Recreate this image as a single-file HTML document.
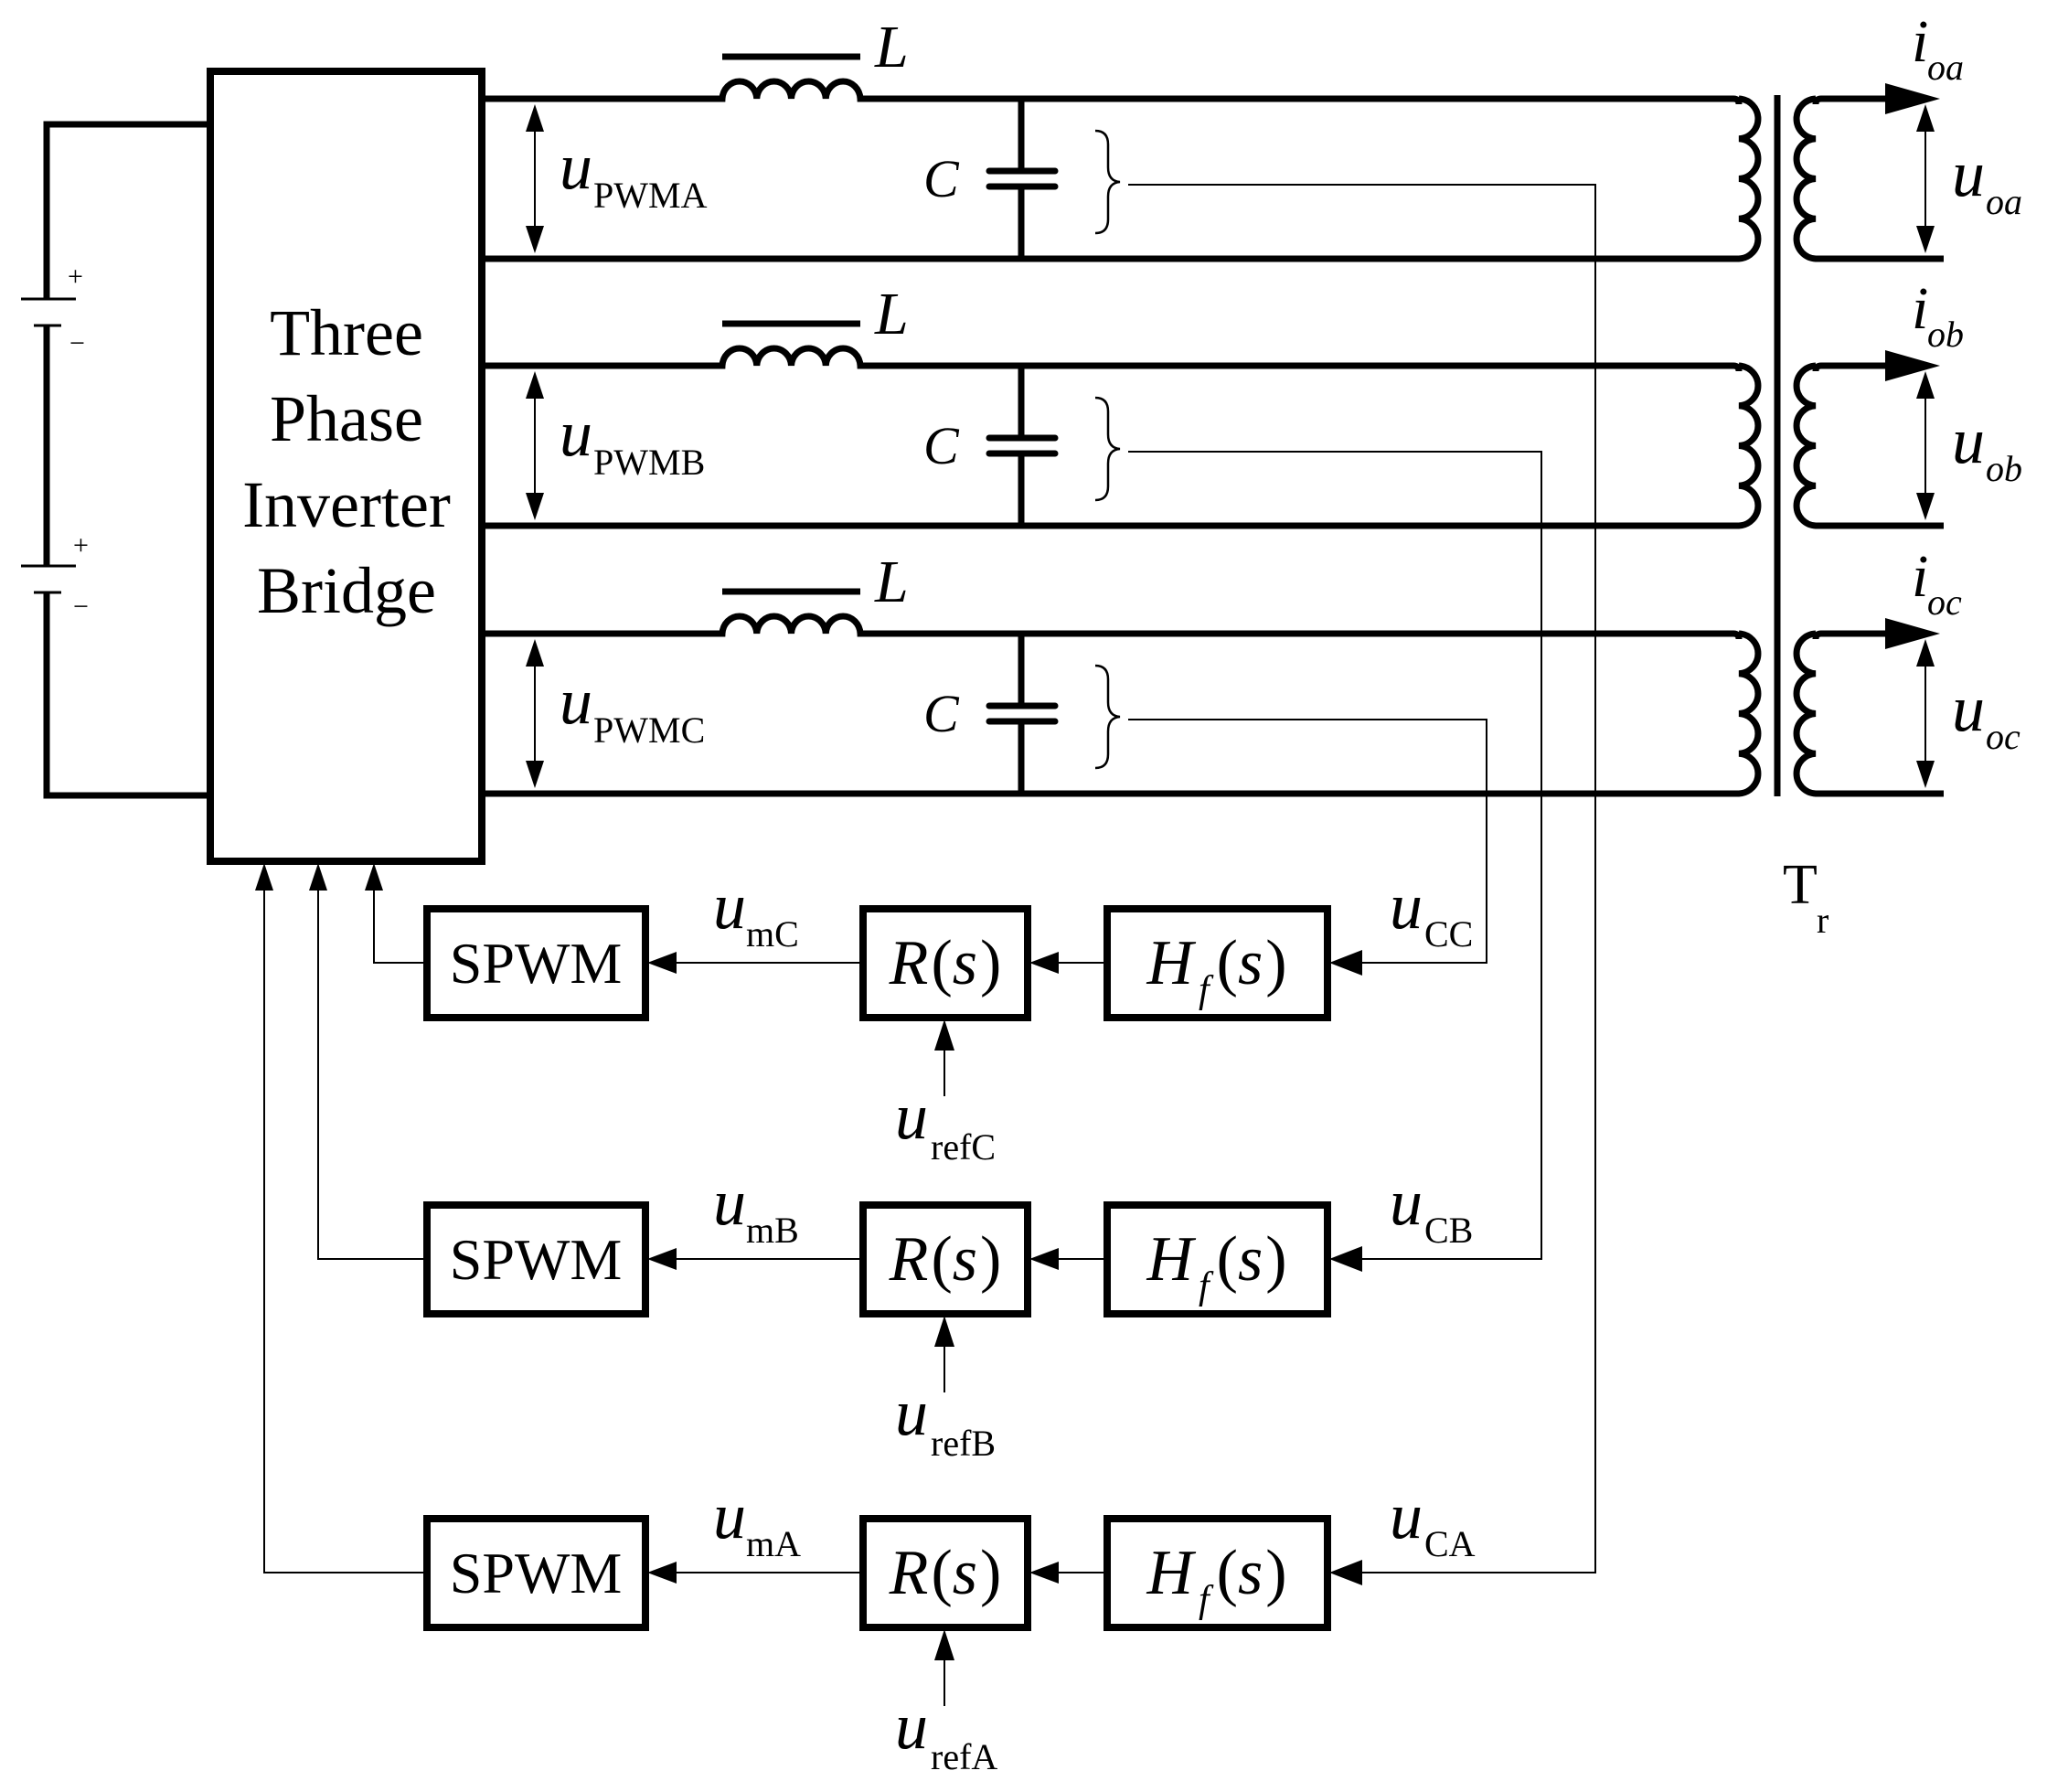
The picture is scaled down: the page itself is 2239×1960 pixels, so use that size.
<!DOCTYPE html>
<html><head><meta charset="utf-8"><style>
html,body{margin:0;padding:0;background:#fff;}
svg{display:block;}
text{font-family:"Liberation Serif",serif;fill:#000;}
.i{font-style:italic;}
</style></head><body>
<svg width="2239" height="1960" viewBox="0 0 2239 1960" xmlns="http://www.w3.org/2000/svg">
<defs>
<g id="phase">
  <path d="M527 108 H790 a18.9 20 0 0 1 37.75 0 a18.9 20 0 0 1 37.75 0 a18.9 20 0 0 1 37.75 0 a18.9 20 0 0 1 37.75 0 H1896 q6 0 6 6" fill="none" stroke="#000" stroke-width="7"/>
  <path d="M1902 108 a22 21.9 0 0 1 0 43.75 a22 21.9 0 0 1 0 43.75 a22 21.9 0 0 1 0 43.75 a22 21.9 0 0 1 0 43.75 H527" fill="none" stroke="#000" stroke-width="7"/>
  <line x1="790" y1="62" x2="941" y2="62" stroke="#000" stroke-width="7"/>
  <line x1="1117" y1="108" x2="1117" y2="187" stroke="#000" stroke-width="7"/>
  <line x1="1117" y1="204" x2="1117" y2="283" stroke="#000" stroke-width="7"/>
  <line x1="1082" y1="187" x2="1154" y2="187" stroke="#000" stroke-width="7" stroke-linecap="round"/>
  <line x1="1082" y1="204" x2="1154" y2="204" stroke="#000" stroke-width="7" stroke-linecap="round"/>
  <path d="M1198 143 Q1212 143 1212 158 L1212 183 Q1212 198 1225 199 Q1212 200 1212 215 L1212 240 Q1212 255 1198 255" fill="none" stroke="#000" stroke-width="2.5"/>
  <line x1="585" y1="140" x2="585" y2="252" stroke="#000" stroke-width="2"/>
  <polygon points="585,114 575,144 595,144"/>
  <polygon points="585,277 575,247 595,247"/>
  <path d="M2062 108 H1992 q-6 0 -6 6 M1986 108 a22 21.9 0 0 0 0 43.75 a22 21.9 0 0 0 0 43.75 a22 21.9 0 0 0 0 43.75 a22 21.9 0 0 0 0 43.75 H2126" fill="none" stroke="#000" stroke-width="7"/>
  <polygon points="2062,91 2122,108 2062,125"/>
  <line x1="2106" y1="140" x2="2106" y2="252" stroke="#000" stroke-width="2"/>
  <polygon points="2106,114 2096,144 2116,144"/>
  <polygon points="2106,277 2096,247 2116,247"/>
  <text x="957" y="73" class="i" font-size="66">L</text>
  <text x="1010" y="215" class="i" font-size="58">C</text>
</g>
<g id="ctrl">
  <rect x="467" y="994" width="239" height="119" fill="none" stroke="#000" stroke-width="8"/>
  <rect x="944" y="994" width="180" height="119" fill="none" stroke="#000" stroke-width="8"/>
  <rect x="1211" y="994" width="241" height="119" fill="none" stroke="#000" stroke-width="8"/>
  <text x="586" y="1075" font-size="64" text-anchor="middle">SPWM</text>
  <text x="1034" y="1076" font-size="70" text-anchor="middle"><tspan class="i">R</tspan><tspan dx="3">(</tspan><tspan class="i">s</tspan><tspan dx="3">)</tspan></text>
  <text x="1331" y="1076" font-size="70" text-anchor="middle"><tspan class="i">H</tspan><tspan class="i" font-size="42" dy="20" dx="6">f</tspan><tspan dy="-20" dx="8">(</tspan><tspan class="i">s</tspan><tspan dx="3">)</tspan></text>
  <line x1="944" y1="1053" x2="730" y2="1053" stroke="#000" stroke-width="2"/>
  <polygon points="708,1053 740,1041 740,1065"/>
  <line x1="1211" y1="1053" x2="1150" y2="1053" stroke="#000" stroke-width="2"/>
  <polygon points="1126,1053 1158,1041 1158,1065"/>
  <polygon points="1454,1053 1490,1039 1490,1067"/>
  <line x1="1033" y1="1199" x2="1033" y2="1140" stroke="#000" stroke-width="2"/>
  <polygon points="1033,1115 1022,1149 1044,1149"/>
</g>
</defs>

<path d="M230 136 H51 V327" fill="none" stroke="#000" stroke-width="7"/>
<line x1="23" y1="327" x2="83" y2="327" stroke="#000" stroke-width="3"/>
<line x1="37" y1="356" x2="67" y2="356" stroke="#000" stroke-width="3"/>
<line x1="51" y1="356" x2="51" y2="619" stroke="#000" stroke-width="7"/>
<line x1="23" y1="619" x2="83" y2="619" stroke="#000" stroke-width="3"/>
<line x1="37" y1="648" x2="67" y2="648" stroke="#000" stroke-width="3"/>
<path d="M51 648 V870 H230" fill="none" stroke="#000" stroke-width="7"/>
<text x="74" y="312" font-size="30">+</text>
<text x="76" y="385" font-size="30">−</text>
<text x="80" y="606" font-size="30">+</text>
<text x="80" y="673" font-size="30">−</text>

<rect x="230" y="78" width="297" height="864" fill="none" stroke="#000" stroke-width="8"/>
<text x="379" y="388" font-size="72" text-anchor="middle">Three</text>
<text x="379" y="482" font-size="72" text-anchor="middle">Phase</text>
<text x="379" y="576" font-size="72" text-anchor="middle">Inverter</text>
<text x="379" y="670" font-size="72" text-anchor="middle">Bridge</text>

<use href="#phase"/>
<use href="#phase" transform="translate(0,292)"/>
<use href="#phase" transform="translate(0,585)"/>

<line x1="1944" y1="104" x2="1944" y2="871" stroke="#000" stroke-width="7"/>
<text x="1950" y="988" font-size="62">T</text>
<text x="1987" y="1020" font-size="40">r</text>

<text x="612" y="206" class="i" font-size="72">u</text><text x="649" y="227" font-size="40">PWMA</text>
<text x="612" y="498" class="i" font-size="72">u</text><text x="649" y="519" font-size="40">PWMB</text>
<text x="612" y="791" class="i" font-size="72">u</text><text x="649" y="812" font-size="40">PWMC</text>
<text x="2091" y="67" class="i" font-size="66">i</text><text x="2108" y="87" class="i" font-size="40">oa</text>
<text x="2091" y="359" class="i" font-size="66">i</text><text x="2108" y="379" class="i" font-size="40">ob</text>
<text x="2091" y="652" class="i" font-size="66">i</text><text x="2108" y="672" class="i" font-size="40">oc</text>
<text x="2135" y="214" class="i" font-size="72">u</text><text x="2172" y="234" class="i" font-size="40">oa</text>
<text x="2135" y="506" class="i" font-size="72">u</text><text x="2172" y="526" class="i" font-size="40">ob</text>
<text x="2135" y="799" class="i" font-size="72">u</text><text x="2172" y="819" class="i" font-size="40">oc</text>

<use href="#ctrl"/>
<use href="#ctrl" transform="translate(0,324)"/>
<use href="#ctrl" transform="translate(0,667)"/>

<g fill="none" stroke="#000" stroke-width="2">
<path d="M1234 202 H1745 V1720 H1480"/>
<path d="M1234 494 H1686 V1377 H1480"/>
<path d="M1234 787 H1626 V1053 H1480"/>
<path d="M467 1053 H409 V965"/>
<path d="M467 1377 H348 V965"/>
<path d="M467 1720 H289 V965"/>
</g>
<polygon points="409,944 399,974 419,974"/>
<polygon points="348,944 338,974 358,974"/>
<polygon points="289,944 279,974 299,974"/>

<text x="780" y="1015" class="i" font-size="72">u</text><text x="816" y="1035" font-size="40">mC</text>
<text x="780" y="1339" class="i" font-size="72">u</text><text x="816" y="1359" font-size="40">mB</text>
<text x="780" y="1682" class="i" font-size="72">u</text><text x="816" y="1702" font-size="40">mA</text>
<text x="1520" y="1015" class="i" font-size="72">u</text><text x="1558" y="1035" font-size="40">CC</text>
<text x="1520" y="1339" class="i" font-size="72">u</text><text x="1558" y="1359" font-size="40">CB</text>
<text x="1520" y="1682" class="i" font-size="72">u</text><text x="1558" y="1702" font-size="40">CA</text>
<text x="979" y="1245" class="i" font-size="72">u</text><text x="1018" y="1268" font-size="40">refC</text>
<text x="979" y="1569" class="i" font-size="72">u</text><text x="1018" y="1592" font-size="40">refB</text>
<text x="979" y="1912" class="i" font-size="72">u</text><text x="1018" y="1935" font-size="40">refA</text>
</svg>
</body></html>
